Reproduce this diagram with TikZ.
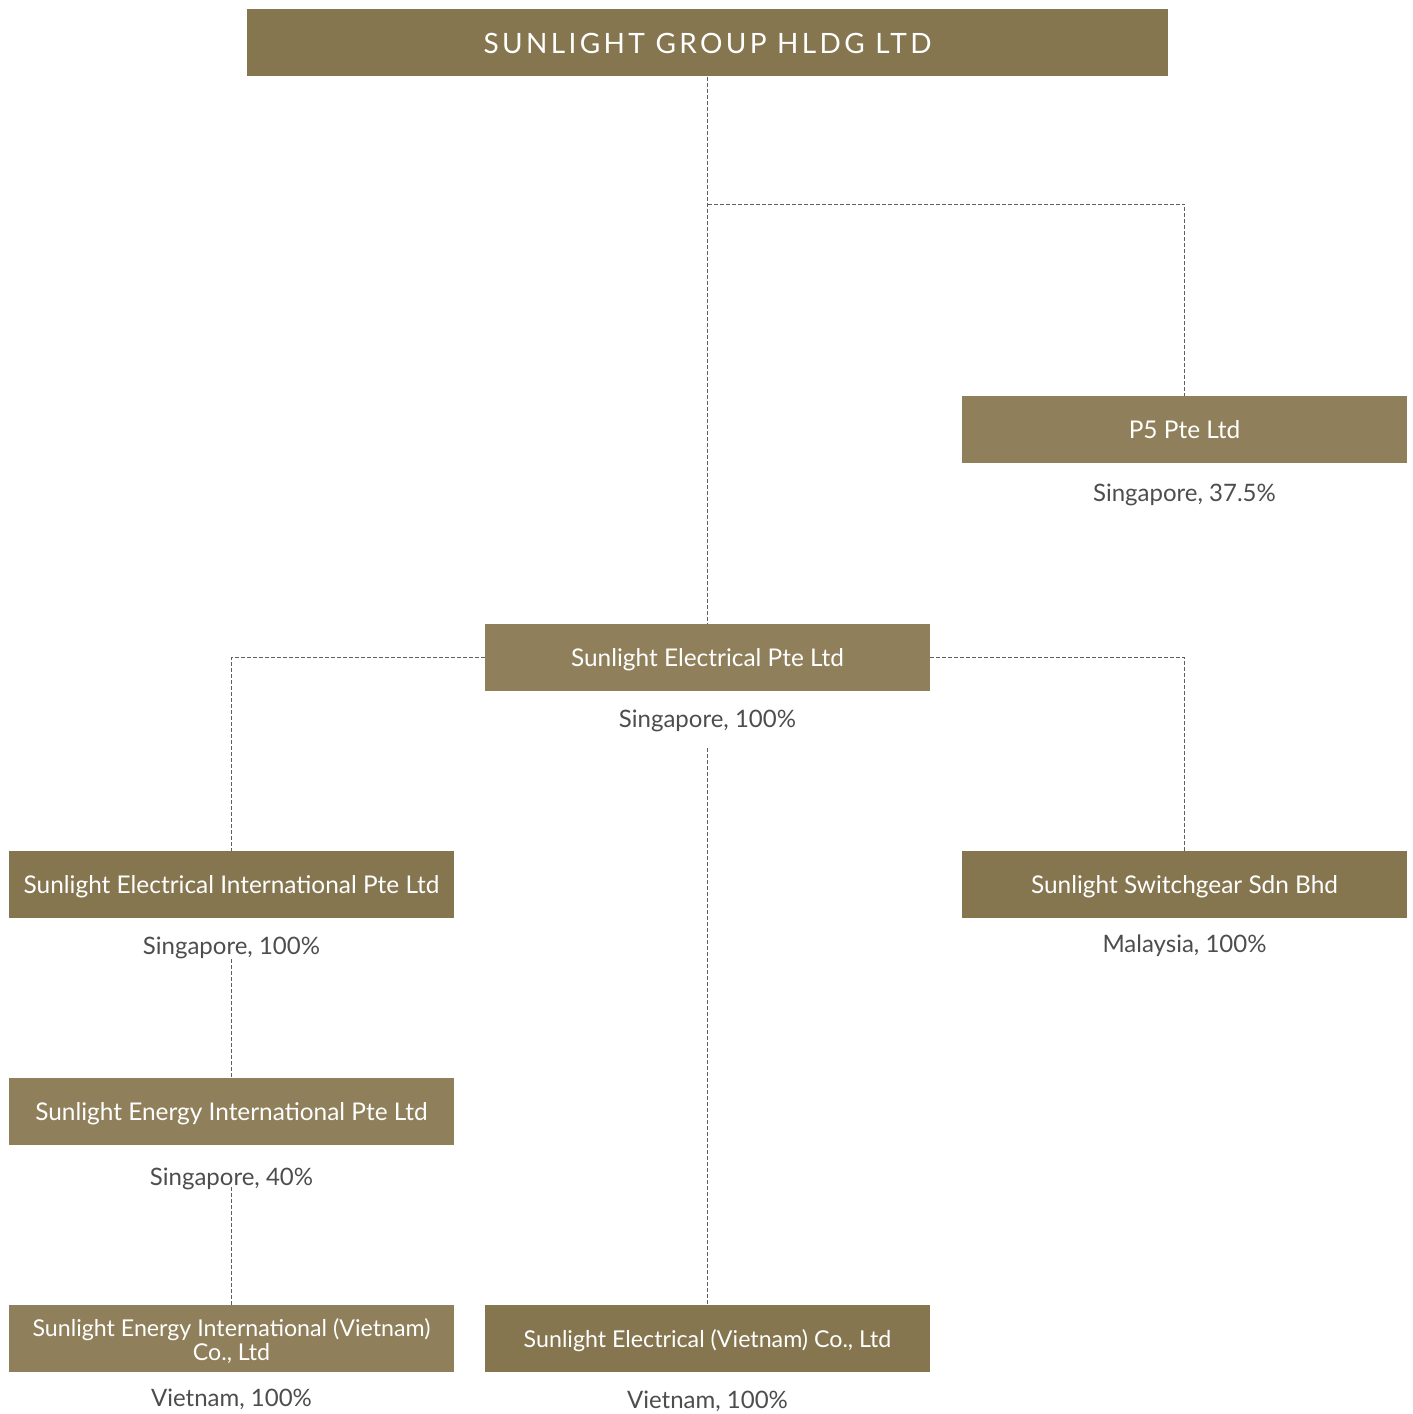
\documentclass[tikz,border=0pt]{standalone}
\usepackage{fontspec}
\setmainfont{Lato}
\newfontfamily\titlefont[LetterSpace=12]{Lato}
\usepackage{tikz}

\definecolor{goldDark}{RGB}{133,118,80}
\definecolor{goldLight}{RGB}{143,127,91}
\definecolor{placeGray}{RGB}{77,77,77}
\definecolor{linkGray}{RGB}{95,95,95}

\begin{document}
\begin{tikzpicture}[x=0.5pt,y=-0.5pt,
    box/.style={minimum width=222.5pt,minimum height=33.5pt,inner sep=0pt,
        text=white,font=\fontsize{12.2}{12}\selectfont,align=center,
        text height=10pt,text depth=1pt},
    dark/.style={box,fill=goldDark},
    light/.style={box,fill=goldLight},
    narrow/.style={font=\fontsize{11.6}{12}\selectfont},
    place/.style={text=placeGray,font=\fontsize{12}{12}\selectfont,inner sep=0pt,
        text height=10pt,text depth=1pt},
    link/.style={draw=linkGray,line width=0.5pt,dash pattern=on 2pt off 1pt}]

    \useasboundingbox (0,0) rectangle (1413,1414);

    \node [dark,minimum width=460.5pt,text height=11.5pt,font=\titlefont\fontsize{14}{14}\selectfont] (group) at (707.5,42.8) {SUNLIGHT GROUP HLDG LTD};

    \node [light] (p5) at (1184.5,429.5) {P5 Pte Ltd};
    \node [place] (p5Loc) at (1184.5,492.3) {Singapore, 37.5\%};

    \node [light] (se) at (707.5,657) {Sunlight Electrical Pte Ltd};
    \node [place] (seLoc) at (707.5,718.7) {Singapore, 100\%};

    \node [dark] (sei) at (231.5,884.5) {Sunlight Electrical International Pte Ltd};
    \node [place] (seiLoc) at (231.5,945.7) {Singapore, 100\%};

    \node [dark] (ssw) at (1184.5,884.5) {Sunlight Switchgear Sdn Bhd};
    \node [place] (sswLoc) at (1184.5,943.7) {Malaysia, 100\%};

    \node [light] (sen) at (231.5,1111.5) {Sunlight Energy International Pte Ltd};
    \node [place] (senLoc) at (231.5,1176) {Singapore, 40\%};

    \node [light,narrow,text height=22pt,text depth=0pt] (senvn) at (231.5,1338.8) {Sunlight Energy International (Vietnam)\\Co., Ltd};
    \node [place] (senvnLoc) at (231.5,1397.5) {Vietnam, 100\%};

    \node [dark,narrow] (sevn) at (707.5,1338.8) {Sunlight Electrical (Vietnam) Co., Ltd};
    \node [place] (sevnLoc) at (707.5,1399.5) {Vietnam, 100\%};

    \coordinate (fork) at (707.5,204);

    \draw [link] (group.south) -- (se.north);
    \draw [link] (fork) -| (p5.north);
    \draw [link] (se.west) -| (sei.north);
    \draw [link] (se.east) -| (ssw.north);
    \draw [link] ([yshift=-9pt]seLoc.south) -- (sevn.north);
    \draw [link] ([yshift=-1pt]seiLoc.south) -- (sen.north);
    \draw [link] (senLoc.south) -- (senvn.north);

\end{tikzpicture}
\end{document}
